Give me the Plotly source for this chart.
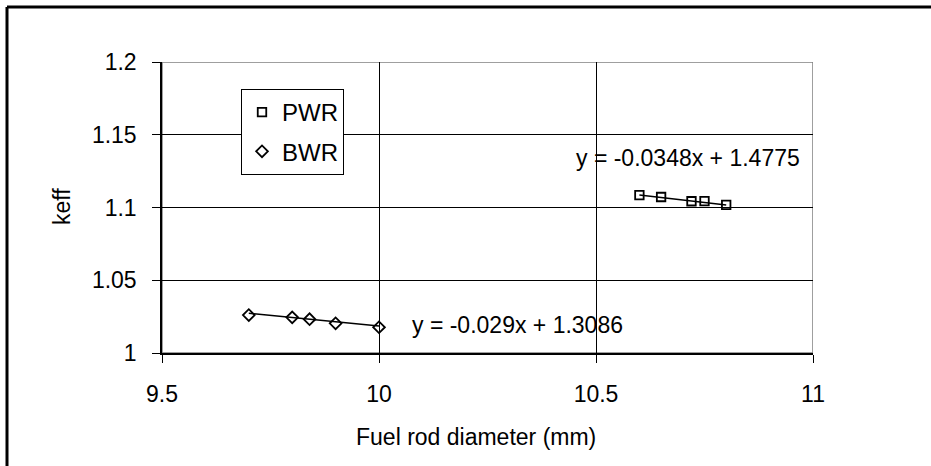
import plotly.graph_objects as go

# Data
pwr_x = [10.6, 10.65, 10.72, 10.75, 10.8]
pwr_y = [1.1085, 1.1072, 1.1043, 1.1044, 1.1018]
bwr_x = [9.7, 9.8, 9.84, 9.9, 10.0]
bwr_y = [1.0261, 1.0245, 1.0232, 1.0204, 1.0177]
pwr_fit = [-0.0348, 1.4775]
bwr_fit = [-0.029, 1.3086]
pwr_label = "y = -0.0348x + 1.4775"
bwr_label = "y = -0.029x + 1.3086"
x_ticks = [9.5, 10, 10.5, 11]
x_tick_text = ["9.5", "10", "10.5", "11"]
y_ticks = [1, 1.05, 1.1, 1.15, 1.2]
y_tick_text = ["1", "1.05", "1.1", "1.15", "1.2"]
x_title = "Fuel rod diameter (mm)"
y_title = "keff"

FONT = "Arial, Liberation Sans, sans-serif"
FS = 23
W, H = 931, 466
L, R, T, B = 162, 118, 62, 113
pw = W - L - R
ph = H - T - B


def px_x(p):
    return (p - L) / pw


def px_y(p):
    return 1 - (p - T) / ph


def fit_line(xs, coef):
    x0, x1 = min(xs), max(xs)
    return [x0, x1], [coef[0] * x0 + coef[1], coef[0] * x1 + coef[1]]


fig = go.Figure()

fx, fy = fit_line(pwr_x, pwr_fit)
fig.add_trace(go.Scatter(x=fx, y=fy, mode="lines", line=dict(color="black", width=1.5),
                         showlegend=False, hoverinfo="skip"))
fx, fy = fit_line(bwr_x, bwr_fit)
fig.add_trace(go.Scatter(x=fx, y=fy, mode="lines", line=dict(color="black", width=1.5),
                         showlegend=False, hoverinfo="skip"))

fig.add_trace(go.Scatter(x=pwr_x, y=pwr_y, mode="markers", name="PWR", legendgroup="a",
                         marker=dict(symbol="square-open", size=8.5, color="black",
                                     line=dict(width=1.8, color="black"))))
fig.add_trace(go.Scatter(x=bwr_x, y=bwr_y, mode="markers", name="BWR", legendgroup="b",
                         marker=dict(symbol="diamond-open", size=9, color="black",
                                     line=dict(width=1.8, color="black"))))

fig.add_annotation(x=10.712, y=1.134, text=pwr_label, showarrow=False,
                   font=dict(family=FONT, size=FS, color="black"))
fig.add_annotation(x=10.32, y=1.019, text=bwr_label, showarrow=False,
                   font=dict(family=FONT, size=FS, color="black"))

# axis titles
fig.add_annotation(xref="paper", yref="paper", x=px_x(476), y=px_y(437), text=x_title,
                   showarrow=False, xanchor="center", yanchor="middle",
                   font=dict(family=FONT, size=FS, color="black"))
fig.add_annotation(xref="paper", yref="paper", x=px_x(62), y=px_y(207), text=y_title,
                   showarrow=False, xanchor="center", yanchor="middle", textangle=-90,
                   font=dict(family=FONT, size=FS, color="black"))

# plot-area border (gray, top/right)
fig.add_shape(type="rect", xref="x", yref="y", x0=9.5, x1=11, y0=1, y1=1.2,
              line=dict(color="#808080", width=1.5), layer="below")

# outer chart border (left and top only visible)
bx = px_x(7)
by = px_y(7)
fig.add_shape(type="line", xref="paper", yref="paper", x0=bx, x1=bx, y0=by, y1=-1,
              line=dict(color="black", width=3))
fig.add_shape(type="line", xref="paper", yref="paper", x0=bx, x1=2, y0=by, y1=by,
              line=dict(color="black", width=3))

fig.update_layout(
    width=W, height=H,
    margin=dict(l=L, r=R, t=T, b=B, pad=0),
    paper_bgcolor="white", plot_bgcolor="white",
    font=dict(family=FONT, size=FS, color="black"),
    showlegend=True,
    legend=dict(x=px_x(241), y=px_y(89), xanchor="left", yanchor="top",
                bgcolor="white", bordercolor="black", borderwidth=1,
                font=dict(family=FONT, size=24, color="black"),
                tracegroupgap=5),
    xaxis=dict(range=[9.5, 11], tickvals=x_ticks, ticktext=x_tick_text,
               showgrid=True, gridcolor="black", gridwidth=1,
               showline=True, linecolor="black", linewidth=1.5,
               ticks="outside", ticklen=8, tickcolor="black", tickwidth=1,
               ticklabelstandoff=12,
               tickfont=dict(family=FONT, size=FS, color="black"),
               zeroline=False),
    yaxis=dict(range=[1, 1.2], tickvals=y_ticks, ticktext=y_tick_text,
               showgrid=True, gridcolor="black", gridwidth=1,
               showline=True, linecolor="black", linewidth=1.5,
               ticks="outside", ticklen=8, tickcolor="black", tickwidth=1,
               ticklabelstandoff=11,
               tickfont=dict(family=FONT, size=FS, color="black"),
               zeroline=False),
)

fig.write_html("out.html")
